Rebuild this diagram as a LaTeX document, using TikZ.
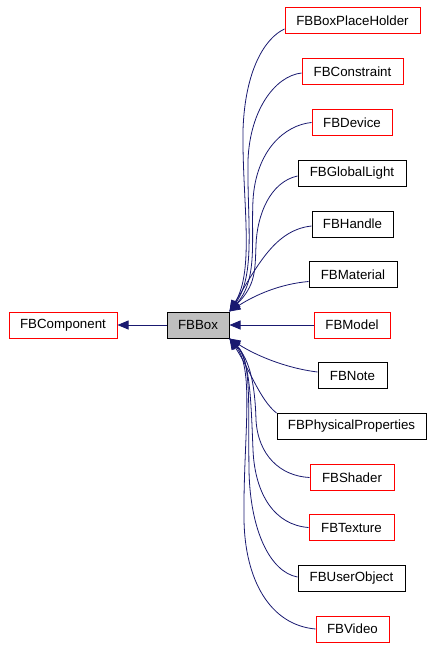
\documentclass[tikz,border=0pt]{standalone}
\usepackage{fontspec}
\setmainfont{Liberation Sans}
\usetikzlibrary{arrows.meta}
\definecolor{edgeblue}{HTML}{191970}
\definecolor{boxred}{HTML}{FF0000}
\definecolor{boxgray}{HTML}{BFBFBF}
\tikzset{
  cls/.style={draw=black, line width=1pt, minimum height=26pt, inner sep=0pt, font=\fontsize{13.3}{15}\selectfont, fill=white},
  redcls/.style={cls, draw=boxred},
  curcls/.style={cls, fill=boxgray},
  edge/.style={draw=edgeblue, line width=0.8pt, -{Triangle[length=11pt,width=9pt]}},
}
\begin{document}
\begin{tikzpicture}[x=1pt,y=-1pt]
\useasboundingbox (0,0) rectangle (434,650);
% nodes
\node[redcls, minimum width=108pt] (comp) at (63,325) {FBComponent};
\node[curcls, minimum width=62pt] (box) at (198,325) {FBBox};
\node[redcls, minimum width=135pt] (bph) at (352.5,21) {FBBoxPlaceHolder};
\node[redcls, minimum width=101pt] (con) at (352.5,72) {FBConstraint};
\node[redcls, minimum width=80pt] (dev) at (352,122.5) {FBDevice};
\node[cls, minimum width=108pt] (glo) at (352,173) {FBGlobalLight};
\node[cls, minimum width=81pt] (han) at (352.5,224) {FBHandle};
\node[cls, minimum width=88pt] (mat) at (353,274.5) {FBMaterial};
\node[redcls, minimum width=76pt] (mod) at (352,325) {FBModel};
\node[cls, minimum width=69pt] (note) at (352.5,375.5) {FBNote};
\node[cls, minimum width=149pt] (phy) at (351.5,426.5) {FBPhysicalProperties};
\node[redcls, minimum width=84pt] (sha) at (352,477.5) {FBShader};
\node[redcls, minimum width=85pt] (tex) at (351.5,527.5) {FBTexture};
\node[cls, minimum width=107pt] (uo) at (351.5,578.5) {FBUserObject};
\node[redcls, minimum width=73pt] (vid) at (352.5,629) {FBVideo};
% edges
\draw[edge] (box.west) -- (comp.east);
\draw[edge] ([yshift=-8pt]bph.west) .. controls (265,38) and (245,70) .. (243,130) .. controls (242,200) and (255,270) .. (box.north east);
\draw[edge] ([yshift=-1pt]con.west) .. controls (275,76) and (250,110) .. (248,160) .. controls (247,220) and (256,275) .. (box.north east);
\draw[edge] (dev.west) .. controls (285,125) and (256,150) .. (253,200) .. controls (251,240) and (258,280) .. (box.north east);
\draw[edge] ([yshift=-3pt]glo.west) .. controls (270,182) and (257,215) .. (256,245) .. controls (255,270) and (256,285) .. (box.north east);
\draw[edge] ([yshift=-2pt]han.west) .. controls (275,230) and (258,265) .. (box.north east);
\draw[edge] ([yshift=-7pt]mat.west) .. controls (280,284) and (255,295) .. (box.north east);
\draw[edge] (mod.west) -- (box.east);
\draw[edge] ([yshift=3.5pt]note.west) .. controls (285,368) and (255,355) .. (box.south east);
\draw[edge] (phy.north west) .. controls (260,400) and (250,370) .. (box.south east);
\draw[edge] (sha.west) .. controls (280,476) and (258,455) .. (256,420) .. controls (255,385) and (250,360) .. (box.south east);
\draw[edge] (tex.west) .. controls (275,525) and (255,495) .. (253,450) .. controls (251,400) and (250,360) .. (box.south east);
\draw[edge] ([yshift=1.5pt]uo.west) .. controls (270,572) and (250,530) .. (249,470) .. controls (248,410) and (252,360) .. (box.south east);
\draw[edge] (vid.west) .. controls (270,625) and (245,580) .. (244,520) .. controls (243,440) and (255,370) .. (box.south east);
\end{tikzpicture}
\end{document}
